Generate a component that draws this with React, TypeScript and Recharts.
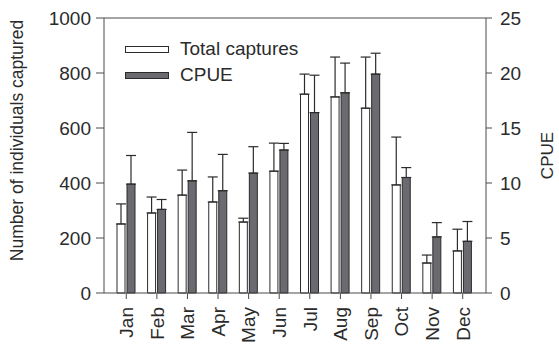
import {
  BarChart,
  Bar,
  XAxis,
  YAxis,
  ErrorBar,
  ReferenceLine,
  Legend,
} from "recharts";

const months = ["Jan", "Feb", "Mar", "Apr", "May", "Jun", "Jul", "Aug", "Sep", "Oct", "Nov", "Dec"];
const totalCaptures = [251, 291, 356, 331, 258, 443, 723, 713, 672, 393, 109, 153];
const totalErr = [73, 58, 91, 91, 14, 102, 73, 145, 186, 174, 29, 79];
const cpue = [9.9, 7.6, 10.2, 9.3, 10.9, 13.0, 16.4, 18.2, 19.9, 10.5, 5.1, 4.7];
const cpueErr = [2.6, 0.9, 4.4, 3.3, 2.4, 0.6, 3.4, 2.7, 1.9, 0.9, 1.3, 1.8];

const leftTicks = [0, 200, 400, 600, 800, 1000];
const rightTicks = [0, 5, 10, 15, 20, 25];

const data = months.map((m, i) => ({
  month: m,
  total: totalCaptures[i],
  totalErr: [0, totalErr[i]],
  cpue: cpue[i],
  cpueErr: [0, cpueErr[i]],
}));

const INK = "#2b2b2b";
const AXIS = "#4a4a4a";
const DARK = "#6a6a70";
const FONT = "'Liberation Sans', Arial, sans-serif";

const MonthTick = (props: any) => {
  const { x, y, payload } = props;
  const ty = y + 6;
  return (
    <text
      x={x}
      y={ty}
      transform={`rotate(-90, ${x}, ${ty})`}
      textAnchor="end"
      dy="0.36em"
      fontSize={19}
      fontFamily={FONT}
      fill={INK}
    >
      {payload.value}
    </text>
  );
};

const LegendBox = () => (
  <div style={{ fontFamily: FONT, fontSize: 19, color: INK, lineHeight: "26px" }}>
    <div style={{ display: "flex", alignItems: "center" }}>
      <span style={{ display: "inline-block", width: 42, height: 5, border: `1px solid ${INK}`, background: "#fff", marginRight: 11 }} />
      Total captures
    </div>
    <div style={{ display: "flex", alignItems: "center" }}>
      <span style={{ display: "inline-block", width: 42, height: 5, border: `1px solid ${INK}`, background: DARK, marginRight: 11 }} />
      CPUE
    </div>
  </div>
);

export default function App() {
  return (
    <div style={{ position: "absolute", left: 0, top: 0, background: "#fff" }}>
      <BarChart
        width={559}
        height={345}
        data={data}
        margin={{ top: 18, right: 0, bottom: 0, left: 0 }}
        barSize={8}
        barGap={2}
      >
        <XAxis
          dataKey="month"
          height={52}
          interval={0}
          tick={<MonthTick />}
          tickSize={6}
          tickLine={{ stroke: AXIS }}
          axisLine={{ stroke: AXIS }}
          padding={{ left: 7, right: 8 }}
        />
        <YAxis
          yAxisId="left"
          width={104}
          domain={[0, 1000]}
          ticks={leftTicks}
          interval={0}
          tickSize={8}
          tickMargin={5}
          tickLine={{ stroke: AXIS }}
          axisLine={{ stroke: AXIS }}
          tick={{ fontSize: 19, fontFamily: FONT, fill: INK }}
          label={{
            value: "Number of individuals captured",
            angle: -90,
            position: "insideLeft",
            dx: 12,
            dy: -15,
            style: { fontSize: 17.5, fontFamily: FONT, fill: INK, textAnchor: "middle" },
          }}
        />
        <YAxis
          yAxisId="right"
          orientation="right"
          width={73}
          domain={[0, 25]}
          ticks={rightTicks}
          interval={0}
          tickSize={6}
          tickMargin={8}
          tickLine={{ stroke: AXIS }}
          axisLine={{ stroke: AXIS }}
          tick={{ fontSize: 19, fontFamily: FONT, fill: INK }}
          label={{
            value: "CPUE",
            angle: -90,
            position: "insideRight",
            dx: -7,
            style: { fontSize: 17, fontFamily: FONT, fill: INK, textAnchor: "middle" },
          }}
        />
        <ReferenceLine yAxisId="left" y={1000} stroke={AXIS} />
        <Legend
          layout="vertical"
          align="center"
          verticalAlign="middle"
          content={<LegendBox />}
          wrapperStyle={{ left: 125, top: 36, width: 200, height: 56 }}
        />
        <Bar yAxisId="left" dataKey="total" name="Total captures" fill="#ffffff" stroke={INK} strokeWidth={1} isAnimationActive={false}>
          <ErrorBar dataKey="totalErr" width={5} stroke={INK} strokeWidth={1.2} direction="y" />
        </Bar>
        <Bar yAxisId="right" dataKey="cpue" name="CPUE" fill={DARK} stroke={INK} strokeWidth={1} isAnimationActive={false}>
          <ErrorBar dataKey="cpueErr" width={5} stroke={INK} strokeWidth={1.2} direction="y" />
        </Bar>
      </BarChart>
    </div>
  );
}
